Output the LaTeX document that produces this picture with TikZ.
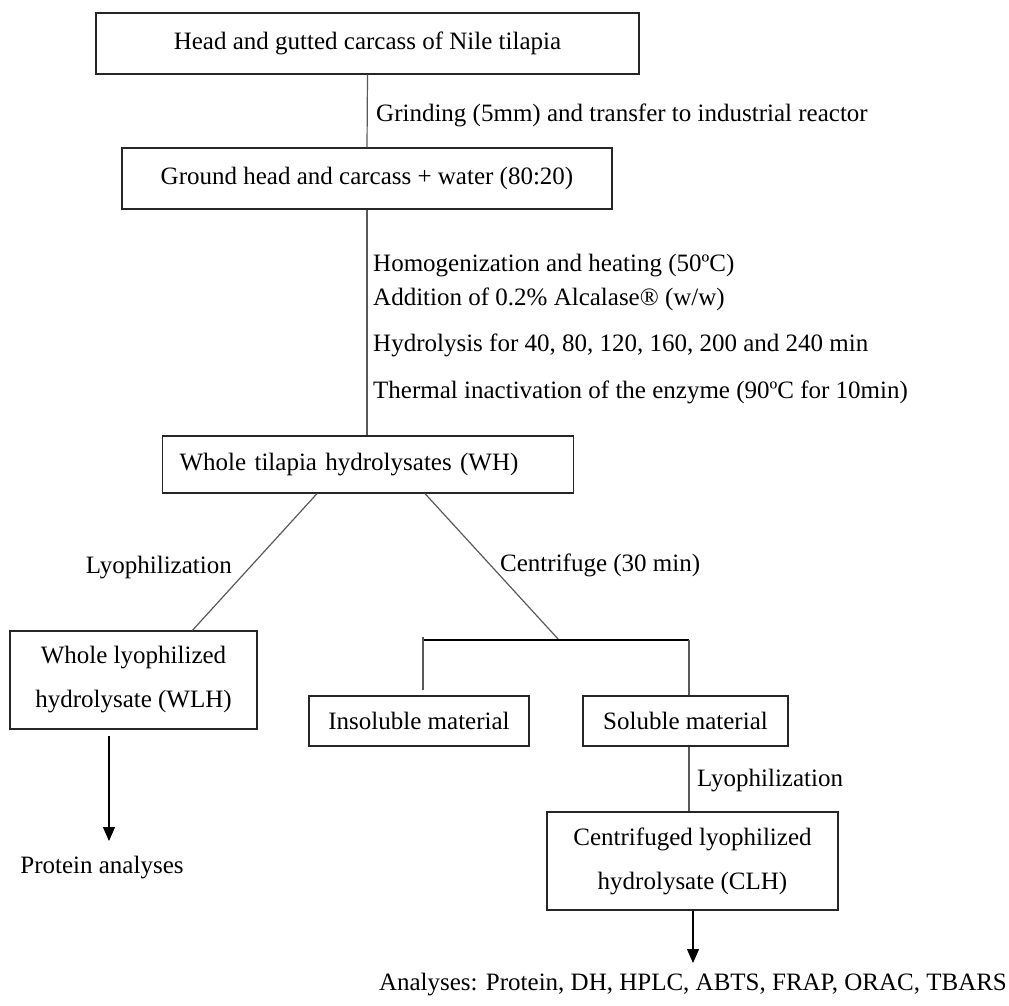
\documentclass[tikz,border=0pt]{standalone}
\usepackage{fontspec}
\setmainfont{Liberation Serif}
\usetikzlibrary{arrows.meta,calc}

\begin{document}
\begin{tikzpicture}[
		x=1pt, y=-1pt,
		every node/.style={font=\fontsize{25}{30}\selectfont, inner sep=0pt},
		box/.style={draw=black!85, line width=1.2pt, rectangle},
		twoline/.style={align=center, font=\fontsize{25}{44}\selectfont},
		link/.style={draw=black!65, line width=1.2pt},
		flow/.style={draw=black, line width=1.2pt, -{Triangle[width=12pt,length=14pt]}}
		]
		\useasboundingbox (0,0) rectangle (1009,1005);
		\node[box, minimum width=543pt, minimum height=61pt] (head) at (367.5,43.5) {Head and gutted carcass of Nile tilapia};
		\node[box, minimum width=490pt, minimum height=61pt] (ground) at (367,178.5) {Ground head and carcass + water (80:20)};
		\node[box, anchor=west, text width=377pt, align=left, inner xsep=17pt, minimum height=57pt] (wh) at (162,464.5) {Whole tilapia hydrolysates (WH)};
		\node[box, twoline, minimum width=247pt, minimum height=98pt] (wlh) at (133.5,680) {Whole lyophilized\\hydrolysate (WLH)};
		\node[box, minimum width=220pt, minimum height=50pt] (insol) at (419,721) {Insoluble material};
		\node[box, minimum width=205pt, minimum height=50pt] (sol) at (685.5,721) {Soluble material};
		\node[box, twoline, minimum width=291pt, minimum height=98pt] (clh) at (692.5,861) {Centrifuged lyophilized\\hydrolysate (CLH)};
		\node[anchor=base west] (grind) at (376,121) {Grinding (5mm) and transfer to industrial reactor};
		\node[anchor=base west] (homog) at (373,271) {Homogenization and heating (50ºC)};
		\node[anchor=base west] (addit) at (373,305) {Addition of 0.2\% Alcalase® (w/w)};
		\node[anchor=base west] (hydro) at (373,351) {Hydrolysis for 40, 80, 120, 160, 200 and 240 min};
		\node[anchor=base west] (therm) at (373,398) {Thermal inactivation of the enzyme (90ºC for 10min)};
		\node[anchor=base east] (lyoA) at (232,573) {Lyophilization};
		\node[anchor=base west] (centr) at (500,571) {Centrifuge (30 min)};
		\node[anchor=base west] (lyoB) at (697,786) {Lyophilization};
		\node[anchor=base] (prot) at (102,873) {Protein analyses};
		\node[anchor=base] (anal) at (693,990) {Analyses: Protein, DH, HPLC, ABTS, FRAP, ORAC, TBARS};
		\coordinate (split) at (559,640);
		\coordinate (jl) at (423,640);
		\coordinate (jr) at (689,640);
		\coordinate (wlhend) at (109,841);
		\coordinate (clhend) at (693,963);
		\draw[link] (head.south) -- (ground.north);
		\draw[link] (ground.south) -- (ground.south |- wh.north);
		\draw[link] ([xshift=155pt]wh.south west) -- ([xshift=183pt]wlh.north west);
		\draw[link] ([xshift=263pt]wh.south west) -- (split);
		\draw[draw=black, line width=1.2pt] (jl) -- (jr);
		\draw[link] ($(jl)+(0,-3)$) -- ($(insol.north -| jl)+(0,-5)$);
		\draw[link] (jr) -- (jr |- sol.north);
		\draw[link] (sol.south -| jr) -- (clh.north -| jr);
		\draw[flow] ([xshift=-24.5pt,yshift=-6pt]wlh.south) -- (wlhend);
		\draw[flow] (clh.south -| clhend) -- (clhend);
\end{tikzpicture}
\end{document}
